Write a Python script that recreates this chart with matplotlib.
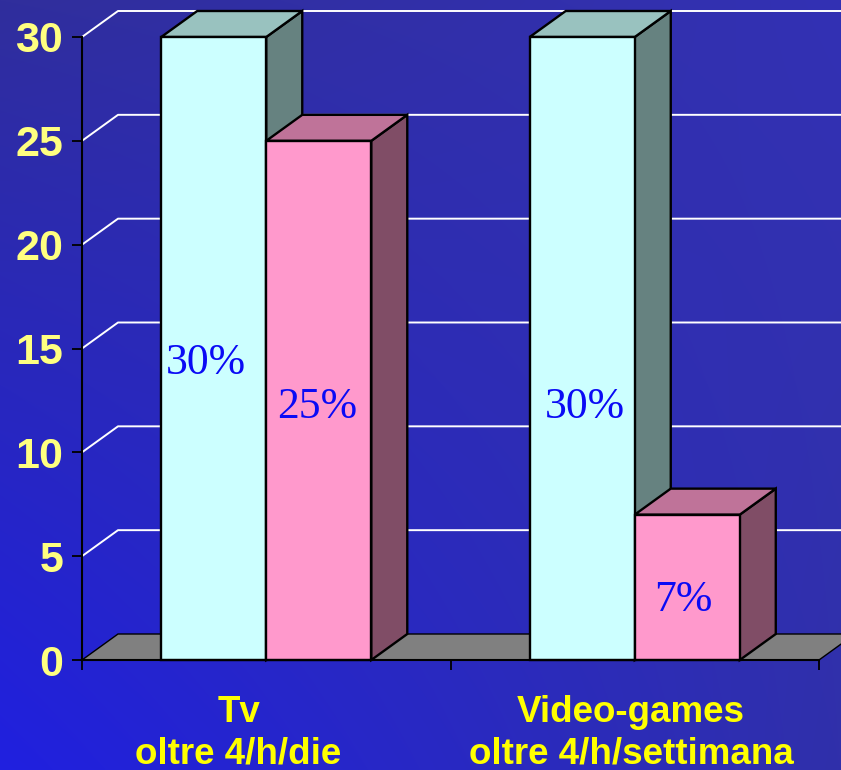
import numpy as np
import matplotlib.pyplot as plt
from matplotlib.patches import Polygon

# Chart data
categories = ['Tv\noltre 4/h/die', 'Video-games\noltre 4/h/settimana']
series_a = [30, 30]   # light cyan bars
series_b = [25, 7]    # pink bars
yticks = [0, 5, 10, 15, 20, 25, 30]

# Layout of the hand-placed labels
label_y_a = [14.3, 12.2]
label_y_b = [12.2, 2.9]
label_dx_a = [-0.022, 0.008]
label_dx_b = [-0.005, -0.01]
cat_label_shift = [-0.075, -0.01]

# Colours
face_a, top_a, side_a = '#CCFFFF', '#99C2BF', '#668280'
face_b, top_b, side_b = '#FF99CC', '#BF7399', '#804D66'
floor_col = '#808080'
tick_col = '#FFFF80'
cat_col = '#FFFF00'
value_col = '#0A0AF5'

W, H = 841, 770
fig = plt.figure(figsize=(W / 100, H / 100), dpi=100)

# Diagonal blue gradient background
bg = fig.add_axes([0, 0, 1, 1], zorder=-10)
yy, xx = np.mgrid[0:1:H * 1j, 0:1:W * 1j]
tl = np.array([0x30, 0x2E, 0x9C]) / 255
tr = np.array([0x33, 0x31, 0xB4]) / 255
bl = np.array([0x20, 0x20, 0xE0]) / 255
br = np.array([0x30, 0x30, 0xAA]) / 255
img = (tl * ((1 - xx) * (1 - yy))[..., None] + tr * (xx * (1 - yy))[..., None]
       + bl * ((1 - xx) * yy)[..., None] + br * (xx * yy)[..., None])
bg.imshow(img, aspect='auto', extent=[0, 1, 0, 1], origin='upper')
bg.axis('off')

# Front plane of the 3D chart
ax_l, ax_b, ax_w, ax_h = 82, 110, 737, 623
ax = fig.add_axes([ax_l / W, ax_b / H, ax_w / W, ax_h / H])
ax.set_xlim(0, len(categories))
ax.set_ylim(0, 30)
ax.patch.set_alpha(0)

# depth offset of the 3D effect, in data units
dx = len(categories) * 36 / ax_w
dy = 30 * 26 / ax_h

# back wall gridlines
for v in yticks[1:]:
    ax.plot([0, dx, 3], [v, v + dy, v + dy], color='white', lw=1.4,
            clip_on=False, zorder=1)

# floor
ax.add_patch(Polygon([(0, 0), (len(categories), 0),
                      (len(categories) + dx, dy), (dx, dy)],
                     closed=True, facecolor=floor_col, edgecolor='black',
                     lw=1.0, clip_on=False, zorder=2))


def bar3d(x0, x1, v, face, top, side, z):
    kw = dict(closed=True, edgecolor='black', lw=1.7, clip_on=False,
              joinstyle='miter')
    ax.add_patch(Polygon([(x1, 0), (x1 + dx, dy), (x1 + dx, v + dy), (x1, v)],
                         facecolor=side, zorder=z, **kw))
    ax.add_patch(Polygon([(x0, v), (x1, v), (x1 + dx, v + dy), (x0 + dx, v + dy)],
                         facecolor=top, zorder=z, **kw))
    ax.add_patch(Polygon([(x0, 0), (x1, 0), (x1, v), (x0, v)],
                         facecolor=face, zorder=z + 0.1, **kw))


bw = 0.285
for i, (a, b) in enumerate(zip(series_a, series_b)):
    c = i + 0.5
    bar3d(c - bw, c, a, face_a, top_a, side_a, 3 + i)
    bar3d(c, c + bw, b, face_b, top_b, side_b, 3.5 + i)
    ax.text(c - bw / 2 + label_dx_a[i], label_y_a[i], f'{a}%', ha='center',
            va='center', color=value_col, fontsize=31.5,
            family='Liberation Serif', zorder=10)
    ax.text(c + bw / 2 + label_dx_b[i], label_y_b[i], f'{b}%', ha='center',
            va='center', color=value_col, fontsize=31.5,
            family='Liberation Serif', zorder=10)
    first, second = categories[i].split('\n')
    ax.text(c + cat_label_shift[i], -2.99, first, ha='center', va='baseline',
            color=cat_col, fontsize=26.5, fontweight='bold',
            family='Liberation Sans', clip_on=False)
    ax.text(c + cat_label_shift[i], -5.0, second, ha='center', va='baseline',
            color=cat_col, fontsize=26.5, fontweight='bold',
            family='Liberation Sans', clip_on=False)

# axes styling
for s in ['top', 'right']:
    ax.spines[s].set_visible(False)
for s in ['left', 'bottom']:
    ax.spines[s].set_color('black')
    ax.spines[s].set_linewidth(1.5)
    ax.spines[s].set_zorder(9)

ax.set_xticks(range(len(categories) + 1))
ax.set_xticklabels([])
ax.set_yticks(yticks)
ax.set_yticklabels([str(t) for t in yticks], color=tick_col, fontsize=31,
                   fontweight='bold', family='Liberation Sans')
ax.tick_params(axis='both', direction='out', length=7.5, width=1.3,
               color='black', pad=6)

plt.savefig('out.png', dpi=100)
